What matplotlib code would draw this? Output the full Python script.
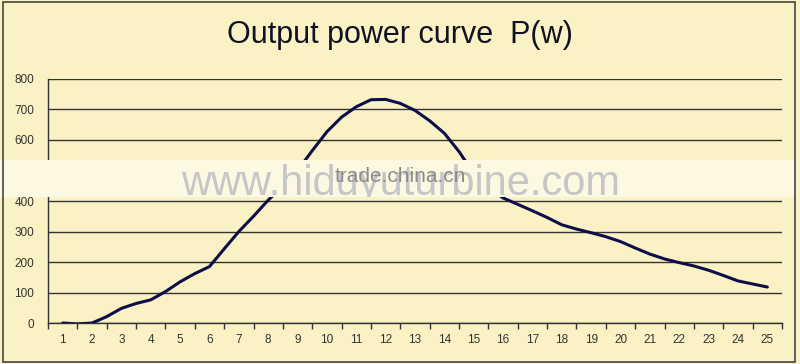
import numpy as np
import matplotlib.pyplot as plt
from matplotlib.patches import Rectangle

speed = np.arange(1, 25.5, 0.5)
power = [0, -3, 0, 21, 48, 64, 76, 103, 135, 162, 185, 243, 300, 350, 403, 448,
         500, 565, 627, 675, 709, 732, 733, 720, 697, 663, 622, 562, 490, 445,
         410, 389, 368, 346, 322, 308, 296, 283, 267, 246, 226, 210, 198, 187,
         173, 156, 138, 128, 118]
xticks = list(range(1, 26))
yticks = list(range(0, 900, 100))

bg = '#FAF2C4'
plt.rcParams['font.family'] = ['Liberation Sans', 'DejaVu Sans']

fig = plt.figure(figsize=(8, 3.64), dpi=100, facecolor=bg)
ax = fig.add_axes([0.06, 0.1126, 0.9175, 0.6704], facecolor=bg)

ax.plot(speed, power, color='#0D0D4A', lw=2.2, solid_capstyle='round',
        solid_joinstyle='round', zorder=3)

ax.set_xlim(0.5, 25.5)
ax.set_ylim(0, 800)
ax.set_yticks(yticks)
ax.set_xticks(xticks)
ax.set_xticks(np.arange(0.5, 26, 1), minor=True)
ax.yaxis.grid(True, color='#333333', lw=1)
ax.tick_params(axis='y', length=0, pad=10, labelsize=8.5, labelcolor='#333333')
ax.tick_params(axis='x', which='major', length=0, pad=8, labelsize=8.5, labelcolor='#333333')
ax.tick_params(axis='x', which='minor', length=4, width=1, color='#333333', direction='out')
for s in ['top', 'right']:
    ax.spines[s].set_visible(False)
for s in ['left', 'bottom']:
    ax.spines[s].set_color('#333333')
    ax.spines[s].set_linewidth(1)

fig.text(0.5, 0.905, 'Output power curve  P(w)', ha='center', va='center',
         fontsize=22, color='#111122')

# watermark band
band = Rectangle((0.0, 1 - 197 / 364), 0.994, 37 / 364, transform=fig.transFigure,
                 facecolor='#FCF8E2', edgecolor='none', alpha=1.0, zorder=10)
fig.add_artist(band)
wm = fig.text(0.501, 1 - 195 / 364, 'www.hiduyuturbine.com', ha='center', va='baseline',
              fontsize=30, color='#C6C6C6', zorder=11)
wm.set_clip_path(band)
fig.text(0.5, 1 - 182 / 364, 'trade.china.cn', ha='center', va='baseline',
         fontsize=15, color='#8C8C8C', zorder=12)

# outer frame
fig.add_artist(Rectangle((0.004, 0.006), 0.99, 0.988, transform=fig.transFigure,
                         facecolor='none', edgecolor='#444444', lw=1.2, zorder=20))

fig.savefig('out.png', dpi=100, facecolor=bg)
